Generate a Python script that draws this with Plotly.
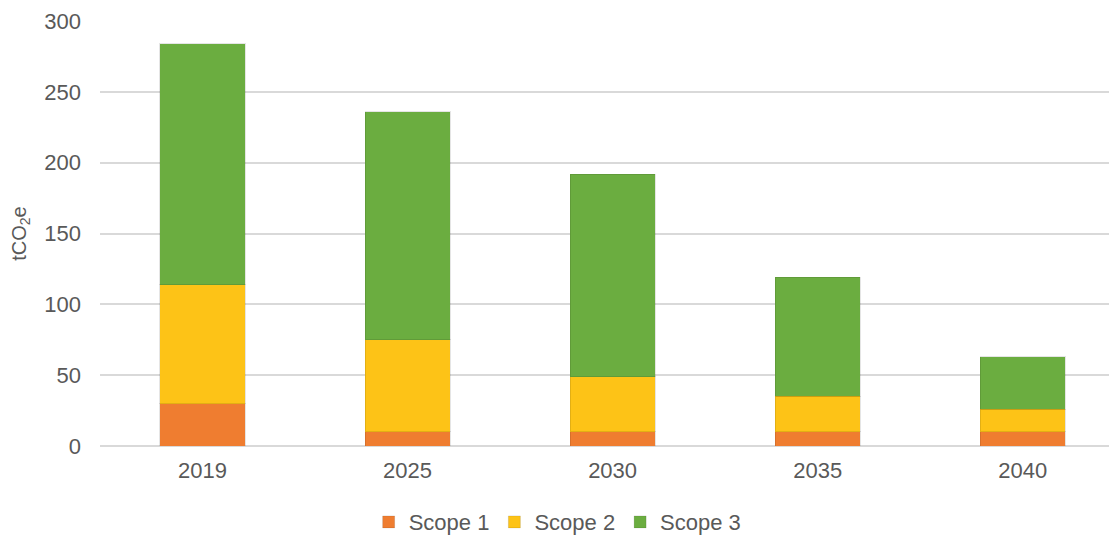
import plotly.graph_objects as go

years = ["2019", "2025", "2030", "2035", "2040"]
scope1 = [30, 10, 10, 10, 10]
scope2 = [84, 65, 39, 25, 16]
scope3 = [170, 161, 143, 84, 37]
series_names = ["Scope 1", "Scope 2", "Scope 3"]
colors = ["#EF7D30", "#FDC317", "#6BAD40"]

fig = go.Figure()
for name, vals, col in zip(series_names, [scope1, scope2, scope3], colors):
    fig.add_trace(go.Bar(
        x=years, y=vals, name=name,
        marker=dict(color=col, line=dict(color="rgba(0,0,0,0.10)", width=1)),
        width=0.415,
    ))

font = "Liberation Sans, Arial, sans-serif"
fig.update_layout(
    barmode="stack",
    width=1109, height=529,
    margin=dict(l=92, r=0, t=13, b=91, autoexpand=False),
    plot_bgcolor="white", paper_bgcolor="white",
    font=dict(family=font, size=22, color="#595959"),
    legend=dict(orientation="h", x=0.45, xanchor="center", y=-0.179, yanchor="middle",
                font=dict(size=22, color="#595959"), traceorder="normal",
                itemwidth=30),
    xaxis=dict(range=[-0.5, 4.46], showgrid=False, showline=False, ticks="",
               ticklabelstandoff=9),
    yaxis=dict(range=[0, 300], dtick=50, showgrid=True, gridcolor="#D9D9D9",
               gridwidth=1.5, zeroline=True, zerolinecolor="#D9D9D9", zerolinewidth=1.5,
               showline=False, ticks="", ticklabelstandoff=18, ticklabeloverflow="allow",
               title=dict(text="tCO<sub>2</sub>e", font=dict(size=20, color="#595959"),
                          standoff=14)),
)

fig.write_html("out.html")
